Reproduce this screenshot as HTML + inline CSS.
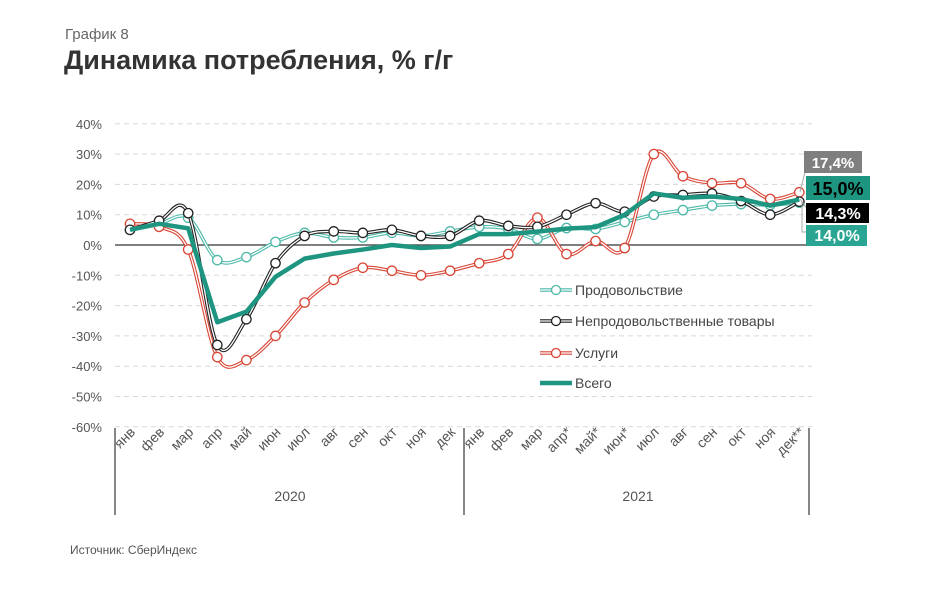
<!DOCTYPE html>
<html><head><meta charset="utf-8"><style>
html,body{margin:0;padding:0;background:#fff;width:950px;height:595px;overflow:hidden}
body{font-family:"Liberation Sans",sans-serif}
</style></head><body>
<svg id="s" width="950" height="595" xmlns="http://www.w3.org/2000/svg" font-family="Liberation Sans, sans-serif">
<text x="65" y="39" font-size="15" fill="#666">График 8</text>
<text x="64" y="69" font-size="27" font-weight="bold" fill="#333">Динамика потребления, % г/г</text>
<text x="70" y="554" font-size="12" fill="#555">Источник: СберИндекс</text>
<g id="g"></g>
</svg>
<script>
var g=document.getElementById('g'),h='';
function Y(v){return 245-v*3.03}
function X(i){return 130+i*29.1}
for(var v=40;v>=-60;v-=10){var y=Y(v);
 if(v!=0)h+='<line x1="115" x2="812" y1="'+y+'" y2="'+y+'" stroke="#d8d8d8" stroke-dasharray="5,4"/>';
 h+='<text x="102" y="'+(y+5)+'" font-size="13" fill="#555" text-anchor="end">'+v+'%</text>';}
h+='<line x1="115" x2="812" y1="245" y2="245" stroke="#555" stroke-width="1.5"/>';
[115,464,809].forEach(function(x){h+='<line x1="'+x+'" x2="'+x+'" y1="428" y2="515" stroke="#444" stroke-width="1.3"/>';});
var m=['янв','фев','мар','апр','май','июн','июл','авг','сен','окт','ноя','дек','янв','фев','мар','апр*','май*','июн*','июл','авг','сен','окт','ноя','дек**'];
m.forEach(function(t,i){var x=X(i)+6;h+='<text transform="translate('+x+',433) rotate(-45)" text-anchor="end" font-size="14" fill="#555">'+t+'</text>';});
h+='<text x="290" y="501" font-size="14" fill="#555" text-anchor="middle">2020</text><text x="638" y="501" font-size="14" fill="#555" text-anchor="middle">2021</text>';
function smooth(p){var d='M'+p[0][0]+','+p[0][1];for(var i=0;i<p.length-1;i++){var p0=p[i-1]||p[i],p1=p[i],p2=p[i+1],p3=p[i+2]||p2;
 d+=' C'+(p1[0]+(p2[0]-p0[0])/6)+','+(p1[1]+(p2[1]-p0[1])/6)+' '+(p2[0]-(p3[0]-p1[0])/6)+','+(p2[1]-(p3[1]-p1[1])/6)+' '+p2[0]+','+p2[1];}return d;}
function pts(a){return a.map(function(v,i){return [X(i),Y(v)]})}
var food=[5,7,9,-5,-4,1,4,2.5,2.5,4,3,4.5,6,5.3,2,5.6,5.3,7.6,10,11.5,13,13.5,13.2,14];
var non=[5,8,10.5,-33,-24.5,-6,3,4.5,4,5,3,3,8,6.3,6,10,13.8,11,16,16.5,17,14.5,10,14.3];
var srv=[7,6,-1.5,-37,-38,-30,-19,-11.5,-7.5,-8.5,-10,-8.5,-6,-3,9,-3,1.3,-1,30,22.7,20.4,20.4,15.2,17.4];
var tot=[5,7,5.5,-25.5,-22,-10.5,-4.5,-2.8,-1.5,0,-1,-0.5,3.6,3.6,4.4,5.4,5.9,10,17,15.6,16,15.2,13,15];
function ser(a,c){var p=pts(a),d=smooth(p);var s='<path d="'+d+'" fill="none" stroke="'+c+'" stroke-width="3.5"/><path d="'+d+'" fill="none" stroke="#fff" stroke-width="1.3"/>';
 p.forEach(function(q){s+='<circle cx="'+q[0]+'" cy="'+q[1]+'" r="4.7" fill="#fff" stroke="'+c+'" stroke-width="1.3"/>';});return s;}
h+=ser(food,'#4bb8a8')+ser(srv,'#d84535')+ser(non,'#222');
h+='<polyline points="'+pts(tot).join(' ')+'" fill="none" stroke="#1e9580" stroke-width="4.5" stroke-linejoin="round"/>';
var L=[['Продовольствие','#4bb8a8',1],['Непродовольственные товары','#222',1],['Услуги','#d84535',1],['Всего','#1e9580',0]];
L.forEach(function(l,i){var y=[290,321,353,383][i];
 if(l[2]){h+='<line x1="540" x2="572" y1="'+y+'" y2="'+y+'" stroke="'+l[1]+'" stroke-width="3.5"/><line x1="540" x2="572" y1="'+y+'" y2="'+y+'" stroke="#fff" stroke-width="1.2"/><circle cx="556" cy="'+y+'" r="4.5" fill="#fff" stroke="'+l[1]+'" stroke-width="1.3"/>';}
 else h+='<line x1="540" x2="572" y1="'+y+'" y2="'+y+'" stroke="'+l[1]+'" stroke-width="4.5"/>';
 h+='<text x="575" y="'+(y+5)+'" font-size="14" fill="#444">'+l[0]+'</text>';});
h+='<polyline points="800,192 806,168" fill="none" stroke="#aaa"/><polyline points="800,199 808,210" fill="none" stroke="#aaa"/><polyline points="802,202 802,232 808,232" fill="none" stroke="#aaa"/>';
h+='<rect x="804" y="151" width="58" height="22" fill="#7f7f7f"/><text x="833" y="168" font-size="15" font-weight="bold" fill="#fff" text-anchor="middle">17,4%</text>';
h+='<rect x="806" y="176" width="64" height="24" fill="#1e9580"/><text x="838" y="195" font-size="18" font-weight="bold" fill="#000" text-anchor="middle">15,0%</text>';
h+='<rect x="806" y="203" width="63" height="20" fill="#000"/><text x="838" y="219" font-size="16" font-weight="bold" fill="#fff" text-anchor="middle">14,3%</text>';
h+='<rect x="806" y="225" width="61" height="21" fill="#2aa593"/><text x="837" y="241" font-size="16" font-weight="bold" fill="#fff" text-anchor="middle">14,0%</text>';
g.innerHTML=h;
</script>
</body></html>
